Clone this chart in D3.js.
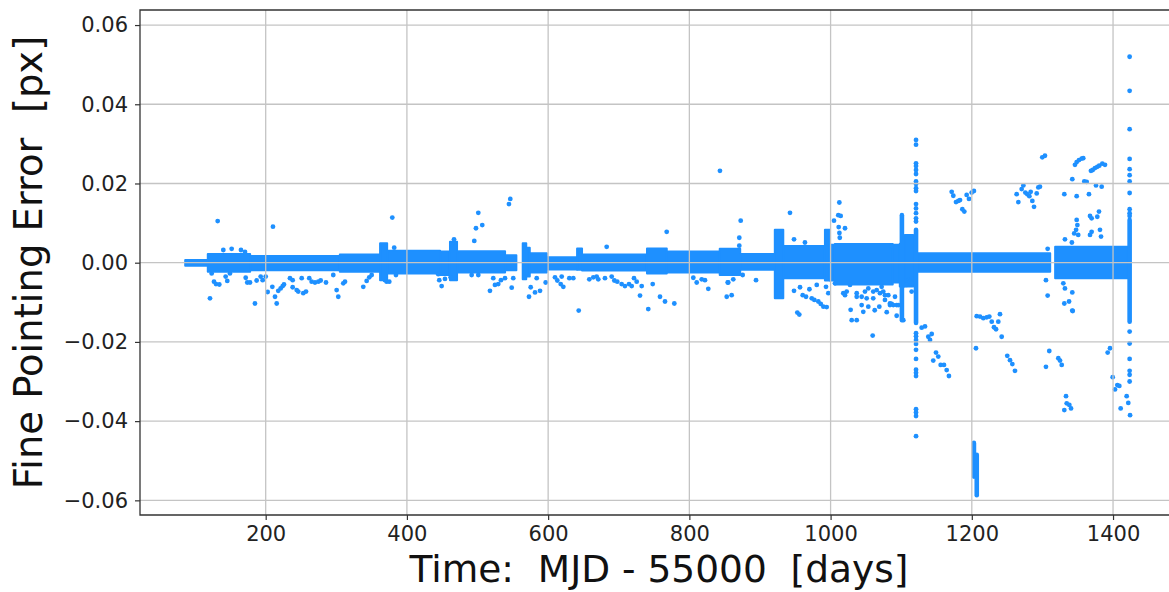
<!DOCTYPE html>
<html>
<head>
<meta charset="utf-8">
<script src="https://cdn.jsdelivr.net/npm/d3@7"></script>
<style>
  body { margin: 0; background: #fff; }
  svg { display: block; font-family: "DejaVu Sans", sans-serif; }
</style>
</head>
<body>
<svg id="svg-canvas" width="1169" height="592"></svg>
<script>
// tick values
const xTicks = [200, 400, 600, 800, 1000, 1200, 1400];
const yTicks = [-0.06, -0.04, -0.02, 0.00, 0.02, 0.04, 0.06];

// dense band around zero: [day start, day end, upper, lower]
const band = [
  [86, 118, 0.0007, -0.0008],
  [118, 178, 0.0022, -0.0023],
  [178, 305, 0.0017, -0.0019],
  [305, 362, 0.0021, -0.0023],
  [362, 372, 0.0049, -0.0044],
  [372, 447, 0.0030, -0.0027],
  [447, 461, 0.0028, -0.0031],
  [461, 471, 0.0053, -0.0044],
  [471, 539, 0.0029, -0.0025],
  [539, 555, 0.0019, -0.0019],
  [564, 569, 0.0049, -0.0042],
  [569, 574, 0.0038, -0.0035],
  [574, 598, 0.0024, -0.0025],
  [598, 641, 0.0014, -0.0017],
  [641, 648, 0.0036, -0.0018],
  [648, 740, 0.0021, -0.0020],
  [740, 768, 0.0036, -0.0027],
  [768, 843, 0.0028, -0.0025],
  [843, 872, 0.0035, -0.0031],
  [872, 921, 0.0022, -0.0018],
  [921, 933, 0.0083, -0.0090],
  [933, 992, 0.0042, -0.0039],
  [992, 999, 0.0083, -0.0045],
  [999, 1006, 0.0045, -0.0045],
  [1006, 1088, 0.0047, -0.0055],
  [1088, 1098, 0.0045, -0.0050],
  [1098, 1105, 0.0048, -0.0060],
  [1105, 1117, 0.0070, -0.0060],
  [1124, 1311, 0.0024, -0.0023],
  [1318, 1421, 0.0040, -0.0039]
];

// dense vertical runs: [day, top, bottom]
const streaks = [
  [1101, 0.0120, -0.0145],
  [1121, 0.0083, -0.0152],
  [1203, -0.0455, -0.0540],
  [1207, -0.0485, -0.0587],
  [1423.5, 0.0108, -0.0149]
];

// separate points [day, error]
const column1121 = [0.0310, 0.0298, 0.0251, 0.0244, 0.0234, 0.0224, 0.0205, 0.0199, 0.0188, 0.0181,
  0.0148, 0.0137, 0.0125, 0.0112, 0.0104, -0.0178, -0.0186, -0.0195, -0.0205, -0.0220, -0.0243,
  -0.0270, -0.0278, -0.0286, -0.0370, -0.0378, -0.0387, -0.0438];
const column1423 = [0.0520, 0.0434, 0.0337, 0.0262, 0.0236, 0.0221, 0.0205, 0.0176, 0.0135, 0.0125,
  0.0118, -0.0174, -0.0204, -0.0243, -0.0273, -0.0283, -0.0300];

const highDots = [
  [132, 0.0105], [210.3, 0.0091], [379.3, 0.0114], [140, 0.0032], [151.8, 0.0035], [165, 0.0032],
  [170.7, 0.0027], [382, 0.0038], [466.7, 0.0059], [463.4, 0.0047], [501.1, 0.0126], [497.8, 0.0087],
  [506.7, 0.0095], [495.4, 0.0055], [544.5, 0.0148], [546.4, 0.0161], [682.9, 0.0040], [767.9, 0.0078],
  [843.3, 0.0232], [872.7, 0.0106], [870.7, 0.0063], [870.7, 0.0043], [942.5, 0.0126], [948.2, 0.0059],
  [963.7, 0.0051], [1012.4, 0.0152], [1004.8, 0.0106], [1010.9, 0.0120], [1014.3, 0.0118],
  [1020.4, 0.0087], [1011.5, 0.0090], [1012.5, 0.0075], [1013, 0.0063], [1086.5, 0.0042],
  [1171.5, 0.0179], [1173.8, 0.0169], [1177.6, 0.0153], [1180.9, 0.0156], [1183.3, 0.0158],
  [1186.6, 0.0135], [1189.4, 0.0129], [1192.7, 0.0171], [1196, 0.0161], [1199.8, 0.0177], [1203, 0.0181],
  [1263.5, 0.0173], [1265.9, 0.0153], [1270.6, 0.0186], [1273, 0.0195], [1275.8, 0.0177], [1278.6, 0.0173],
  [1281.5, 0.0168], [1283.4, 0.0179], [1285.7, 0.0156], [1288.1, 0.0141], [1291.9, 0.0175], [1294.2, 0.0190],
  [1296.5, 0.0192], [1299.8, 0.0266], [1303.6, 0.0270], [1307.4, 0.0035],
  [1331, 0.0173], [1342.3, 0.0211], [1346.1, 0.0247], [1348.5, 0.0254], [1351.8, 0.0259], [1355.6, 0.0263],
  [1357.8, 0.0264], [1359.3, 0.0205], [1362.7, 0.0204], [1365.9, 0.0173], [1368.7, 0.0232], [1371.2, 0.0234],
  [1374.4, 0.0239], [1377.7, 0.0242], [1380.5, 0.0245], [1384.8, 0.0250], [1388.6, 0.0247], [1375.9, 0.0195],
  [1383.9, 0.0192], [1348.5, 0.0168], [1348.5, 0.0108], [1349.5, 0.0095], [1347.7, 0.0083], [1350.7, 0.0070],
  [1345, 0.0074], [1341.7, 0.0051], [1367.4, 0.0118], [1369.7, 0.0112], [1380.1, 0.0129], [1377.7, 0.0116],
  [1369.7, 0.0078], [1367.4, 0.0070], [1381.5, 0.0083], [1383, 0.0066], [1331.9, 0.0059]
];

const lowDots = [
  [121.1, -0.0090], [123.5, -0.0027], [126.8, -0.0048], [129.6, -0.0054], [134.3, -0.0055], [143.3, -0.0035],
  [145.6, -0.0046], [149.4, -0.0027], [171.7, -0.0038], [173.9, -0.0050], [177.8, -0.0050], [184.8, -0.0103],
  [187.2, -0.0045], [192.9, -0.0035], [195.7, -0.0044], [200, -0.0035], [202.8, -0.0074], [209.4, -0.0061],
  [213.2, -0.0086], [215.6, -0.0103], [217.8, -0.0071], [221.2, -0.0065], [224.1, -0.0059], [225.9, -0.0055],
  [234.4, -0.0039], [238.2, -0.0044], [238.2, -0.0062], [243.9, -0.0069], [246.1, -0.0073], [251, -0.0039],
  [253.2, -0.0077], [257.1, -0.0073], [261.7, -0.0039], [265.1, -0.0048], [269.8, -0.0050], [274.5, -0.0048],
  [277.9, -0.0045], [285.4, -0.0050], [295.7, -0.0031], [300.5, -0.0069], [302.8, -0.0086], [309.9, -0.0052],
  [312.3, -0.0048], [338.2, -0.0061], [343, -0.0046], [346.7, -0.0037], [350.1, -0.0031], [369, -0.0044],
  [371.3, -0.0048], [375, -0.0048], [384.5, -0.0031], [444.4, -0.0029],
  [445.8, -0.0044], [449.2, -0.0059], [453.9, -0.0041], [461.9, -0.0037], [491.7, -0.0031], [501.1, -0.0031],
  [517.6, -0.0071], [522.3, -0.0039], [524.7, -0.0056], [529.4, -0.0054], [533.2, -0.0044], [538.9, -0.0039],
  [548.4, -0.0063], [550.6, -0.0039], [572.9, -0.0086], [575.3, -0.0062], [581.4, -0.0075], [583.8, -0.0039],
  [588.5, -0.0071], [596.5, -0.0050], [609.7, -0.0037], [613, -0.0045], [617.8, -0.0054], [621.5, -0.0061],
  [619.2, -0.0035], [630, -0.0039], [635.6, -0.0039], [643.3, -0.0121], [658.3, -0.0042], [664, -0.0037],
  [668.7, -0.0035], [671, -0.0042], [680.5, -0.0039], [690, -0.0035], [693.7, -0.0045], [697.9, -0.0048],
  [704.1, -0.0054], [708.8, -0.0059], [714.5, -0.0054], [718.3, -0.0059], [721.6, -0.0039], [725.4, -0.0048],
  [730.1, -0.0083], [732.5, -0.0059], [741.8, -0.0117], [748.1, -0.0054], [758.4, -0.0086], [765.5, -0.0098],
  [778.7, -0.0103], [805.6, -0.0038], [810.4, -0.0050], [817.5, -0.0042], [822.1, -0.0044], [826.8, -0.0066],
  [854.3, -0.0050], [852.9, -0.0086], [859.9, -0.0082], [855.1, -0.0050], [862.2, -0.0042], [875.5, -0.0031],
  [894.4, -0.0044], [948.2, -0.0071], [956.7, -0.0062], [960.5, -0.0082], [965.2, -0.0086], [970, -0.0067],
  [973.3, -0.0090], [977, -0.0094], [980.4, -0.0056], [982.6, -0.0098], [986.1, -0.0104], [989.8, -0.0111],
  [994.5, -0.0112], [952.9, -0.0126], [955.7, -0.0131], [996.8, -0.0077], [993.5, -0.0061],
  [1006.2, -0.0052], [1018, -0.0077], [1020.4, -0.0082], [1022.8, -0.0073], [1027.5, -0.0056],
  [1028.4, -0.0119], [1029.9, -0.0145], [1037, -0.0145], [1037, -0.0086], [1037, -0.0077], [1044, -0.0107],
  [1044, -0.0086], [1046.3, -0.0124], [1048.7, -0.0073], [1051.1, -0.0090], [1053.4, -0.0111],
  [1053.4, -0.0065], [1059.6, -0.0184], [1060.4, -0.0090], [1060.4, -0.0073], [1062.5, -0.0120],
  [1065.3, -0.0069], [1069, -0.0111], [1069.9, -0.0077], [1072.3, -0.0061], [1074.6, -0.0073],
  [1077, -0.0082], [1077, -0.0094], [1079.5, -0.0125], [1081.7, -0.0082], [1084.1, -0.0107],
  [1084.1, -0.0103], [1086.5, -0.0104], [1088.8, -0.0107], [1091.2, -0.0086], [1093.6, -0.0134],
  [1093.6, -0.0107], [1095.9, -0.0107], [1103, -0.0145], [1107.8, -0.0056], [1110.1, -0.0044],
  [1112.5, -0.0048], [1114.8, -0.0052], [1114.8, -0.0073],
  [1129, -0.0164], [1133.7, -0.0161], [1138.4, -0.0187], [1140.8, -0.0195], [1143.2, -0.0180],
  [1145.4, -0.0247], [1149.3, -0.0227], [1152.5, -0.0237], [1155.9, -0.0258], [1160.6, -0.0258],
  [1164.4, -0.0271], [1167.6, -0.0286],
  [1205.9, -0.0216], [1206.9, -0.0135], [1211.6, -0.0136], [1216.3, -0.0140], [1221.1, -0.0138],
  [1224.8, -0.0136], [1228.2, -0.0149], [1231.4, -0.0163], [1234.3, -0.0168], [1237.5, -0.0149],
  [1239.9, -0.0130], [1242.3, -0.0187], [1250.2, -0.0235], [1254.1, -0.0246], [1257.4, -0.0256],
  [1261.1, -0.0273],
  [1305, -0.0044], [1307.4, -0.0083], [1309.7, -0.0223], [1305, -0.0263], [1322.5, -0.0241],
  [1324.9, -0.0247], [1327.3, -0.0258], [1333.4, -0.0337], [1334.4, -0.0355], [1331, -0.0372],
  [1338.1, -0.0359], [1340.5, -0.0368], [1329.6, -0.0052], [1331.9, -0.0065], [1331, -0.0103],
  [1337.7, -0.0098], [1342.3, -0.0075], [1342.9, -0.0122], [1342.3, -0.0121],
  [1392.4, -0.0227], [1395.7, -0.0216], [1399.5, -0.0289], [1402.8, -0.0320], [1406.1, -0.0309],
  [1408.9, -0.0311], [1410.8, -0.0368], [1419.3, -0.0337], [1421.6, -0.0354], [1424.1, -0.0385]
];

const BLUE = '#1e90ff';
const margin = { left: 140, top: 10, right: 1178, bottom: 515 };

const x = d3.scaleLinear()
  .domain([22, 1492])   // days
  .range([margin.left, margin.right]);

const y = d3.scaleLinear()
  .domain([-0.0637, 0.0638])  // px
  .range([margin.bottom, margin.top]);

const svg = d3.select('#svg-canvas');

svg.append('clipPath')
  .attr('id', 'plot-clip')
  .append('rect')
  .attr('x', margin.left)
  .attr('y', margin.top)
  .attr('width', margin.right - margin.left)
  .attr('height', margin.bottom - margin.top);

const plot = svg.append('g').attr('clip-path', 'url(#plot-clip)');

// band
plot.append('g')
  .selectAll('rect')
  .data(band)
  .join('rect')
  .attr('x', d => x(d[0]))
  .attr('width', d => x(d[1]) - x(d[0]))
  .attr('y', d => y(d[2]))
  .attr('height', d => y(d[3]) - y(d[2]))
  .attr('fill', BLUE)
  .attr('stroke', BLUE)
  .attr('stroke-width', 2)
  .attr('stroke-linejoin', 'round');

// streaks
plot.append('g')
  .selectAll('line')
  .data(streaks)
  .join('line')
  .attr('x1', d => x(d[0]))
  .attr('x2', d => x(d[0]))
  .attr('y1', d => y(d[1]))
  .attr('y2', d => y(d[2]))
  .attr('stroke', BLUE)
  .attr('stroke-width', 4.6)
  .attr('stroke-linecap', 'round');

const dots = highDots.concat(lowDots)
  .concat(column1121.map(v => [1121, v]))
  .concat(column1423.map(v => [1423.5, v]));

plot.append('g')
  .selectAll('circle')
  .data(dots)
  .join('circle')
  .attr('cx', d => x(d[0]))
  .attr('cy', d => y(d[1]))
  .attr('r', 2.4)
  .attr('fill', BLUE);

// grid (drawn over the points, like matplotlib)
const grid = plot.append('g')
  .attr('stroke', '#c4c4c4')
  .attr('stroke-width', 1.3);

grid.selectAll('.gx')
  .data(xTicks)
  .join('line')
  .attr('x1', d => x(d)).attr('x2', d => x(d))
  .attr('y1', margin.top).attr('y2', margin.bottom);

grid.selectAll('.gy')
  .data(yTicks)
  .join('line')
  .attr('y1', d => y(d)).attr('y2', d => y(d))
  .attr('x1', margin.left).attr('x2', margin.right);

// axes
const xAxis = svg.append('g')
  .attr('transform', `translate(0, ${margin.bottom})`)
  .call(d3.axisBottom(x).tickValues(xTicks).tickSize(5).tickPadding(6).tickFormat(d3.format('d')));

const yAxis = svg.append('g')
  .attr('transform', `translate(${margin.left}, 0)`)
  .call(d3.axisLeft(y).tickValues(yTicks).tickSize(5).tickPadding(7).tickFormat(d3.format('.2f')));

[xAxis, yAxis].forEach(a => {
  a.select('.domain').remove();
  a.selectAll('.tick line').attr('stroke', '#333').attr('stroke-width', 1.2);
  a.selectAll('.tick text')
    .attr('fill', '#222')
    .style('font-size', '21px')
    .style('font-family', '"DejaVu Sans", sans-serif');
});

// frame
svg.append('path')
  .attr('d', `M${margin.left},${margin.bottom}V${margin.top}H${margin.right}V${margin.bottom}Z`)
  .attr('fill', 'none')
  .attr('stroke', '#333')
  .attr('stroke-width', 1.3);

// labels
svg.append('text')
  .attr('x', (margin.left + margin.right) / 2)
  .attr('y', 582)
  .attr('text-anchor', 'middle')
  .attr('fill', '#111')
  .style('font-size', '37.5px')
  .style('white-space', 'pre')
  .text('Time:  MJD - 55000  [days]');

svg.append('text')
  .attr('transform', `translate(42, ${(margin.top + margin.bottom) / 2}) rotate(-90)`)
  .attr('text-anchor', 'middle')
  .attr('fill', '#111')
  .style('font-size', '38.5px')
  .style('white-space', 'pre')
  .text('Fine Pointing Error  [px]');
</script>
</body>
</html>
